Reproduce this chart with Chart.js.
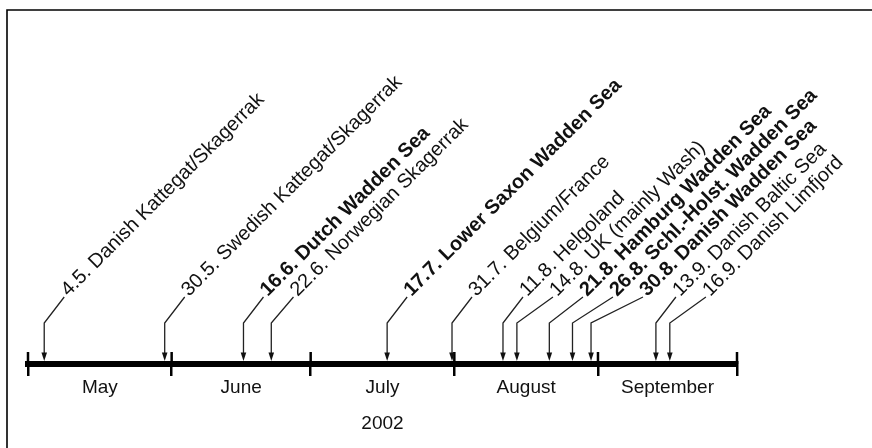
<!DOCTYPE html>
<html>
<head>
<meta charset="utf-8">
<script src="https://cdn.jsdelivr.net/npm/chart.js@4.4.1/dist/chart.umd.min.js"></script>
<style>
  html, body { margin: 0; padding: 0; background: #fff; }
</style>
</head>
<body>
<canvas id="chart" width="872" height="448"></canvas>
<script>
const months = ["May", "June", "July", "August", "September"];
const monthLengths = [31, 30, 31, 31, 30];
const yearLabel = "2002";
const firstMonth = 5;

// sightings: day, month, area
const eventDay = [4, 30, 16, 22, 17, 31, 11, 14, 21, 26, 30, 13, 16];
const eventMonth = [5, 5, 6, 6, 7, 7, 8, 8, 8, 8, 8, 9, 9];
const eventArea = [
  "Danish Kattegat/Skagerrak",
  "Swedish Kattegat/Skagerrak",
  "Dutch Wadden Sea",
  "Norwegian Skagerrak",
  "Lower Saxon Wadden Sea",
  "Belgium/France",
  "Helgoland",
  "UK (mainly Wash)",
  "Hamburg Wadden Sea",
  "Schl.-Holst. Wadden Sea",
  "Danish Wadden Sea",
  "Danish Baltic Sea",
  "Danish Limfjord"
];

const family = "'Liberation Sans', Arial, sans-serif";

const monthStarts = [0];
monthLengths.forEach((n, i) => monthStarts.push(monthStarts[i] + n));
const totalDays = monthStarts[monthStarts.length - 1];
const monthMids = monthLengths.map((n, i) => monthStarts[i] + n / 2);

const eventX = eventDay.map((d, i) => monthStarts[eventMonth[i] - firstMonth] + d - 1 + 0.5);
const eventLabel = eventDay.map((d, i) => `${d}.${eventMonth[i]}. ${eventArea[i]}`);
const eventBold = eventArea.map(a => a.includes("Wadden Sea"));

const timeline = {
  id: "timeline",
  beforeDraw(chart) {
    const ctx = chart.ctx;
    ctx.save();
    ctx.strokeStyle = "#000";
    ctx.lineWidth = 1.6;
    ctx.beginPath();
    ctx.moveTo(7, 448);
    ctx.lineTo(7, 10);
    ctx.lineTo(872, 10);
    ctx.stroke();
    ctx.restore();
  },
  afterDraw(chart) {
    const ctx = chart.ctx;
    const xs = chart.scales.x;
    const axisY = chart.chartArea.bottom;
    ctx.save();

    // upper half of the month boundary ticks
    ctx.strokeStyle = "#000";
    ctx.lineWidth = 2.5;
    monthStarts.forEach(v => {
      const px = xs.getPixelForValue(v);
      ctx.beginPath();
      ctx.moveTo(px, axisY - 12);
      ctx.lineTo(px, axisY);
      ctx.stroke();
    });

    const pts = chart.getDatasetMeta(0).data;
    let prev = -Infinity;
    pts.forEach((p, i) => {
      const ax = p.x;
      const lx = Math.max(ax + 20, prev + 30);
      prev = lx;

      ctx.strokeStyle = "#222";
      ctx.fillStyle = "#111";
      ctx.lineWidth = 1.3;
      ctx.beginPath();
      ctx.moveTo(lx, axisY - 67);
      ctx.lineTo(ax, axisY - 41);
      ctx.lineTo(ax, axisY - 10);
      ctx.stroke();

      ctx.beginPath();
      ctx.moveTo(ax - 2.8, axisY - 11.5);
      ctx.lineTo(ax + 2.8, axisY - 11.5);
      ctx.lineTo(ax, axisY - 3);
      ctx.closePath();
      ctx.fill();

      ctx.save();
      ctx.translate(lx, axisY - 67);
      ctx.rotate(-Math.PI / 4);
      ctx.font = (eventBold[i] ? "bold " : "") + "20px " + family;
      ctx.textBaseline = "alphabetic";
      ctx.textAlign = "left";
      ctx.fillText(eventLabel[i], 3, 3);
      ctx.restore();
    });
    ctx.restore();
  }
};

new Chart(document.getElementById("chart"), {
  type: "scatter",
  data: {
    datasets: [{
      data: eventX.map(x => ({ x: x, y: 0 })),
      pointRadius: 0,
      pointHoverRadius: 0
    }]
  },
  options: {
    responsive: false,
    animation: false,
    events: [],
    layout: { padding: { left: 28, right: 135, top: 20, bottom: 12.6 } },
    plugins: { legend: { display: false }, tooltip: { enabled: false } },
    scales: {
      y: { display: false, min: 0, max: 1 },
      x: {
        type: "linear",
        position: "bottom",
        min: 0,
        max: totalDays,
        afterBuildTicks: axis => { axis.ticks = monthStarts.map(v => ({ value: v })); },
        ticks: { display: false },
        grid: { color: "#000", lineWidth: 2.5, tickLength: 12, drawOnChartArea: false },
        border: { display: true, color: "#000", width: 6 }
      },
      x2: {
        type: "linear",
        position: "bottom",
        min: 0,
        max: totalDays,
        afterBuildTicks: axis => { axis.ticks = monthMids.map(v => ({ value: v })); },
        ticks: {
          callback: (v, i) => months[i],
          color: "#111",
          font: { family: family, size: 19 },
          padding: -8,
          maxRotation: 0,
          autoSkip: false
        },
        grid: { display: false },
        border: { display: false },
        title: {
          display: true,
          text: yearLabel,
          color: "#111",
          font: { family: family, size: 19 },
          padding: { top: 21.8, bottom: 0 }
        }
      }
    }
  },
  plugins: [timeline]
});
</script>
</body>
</html>
